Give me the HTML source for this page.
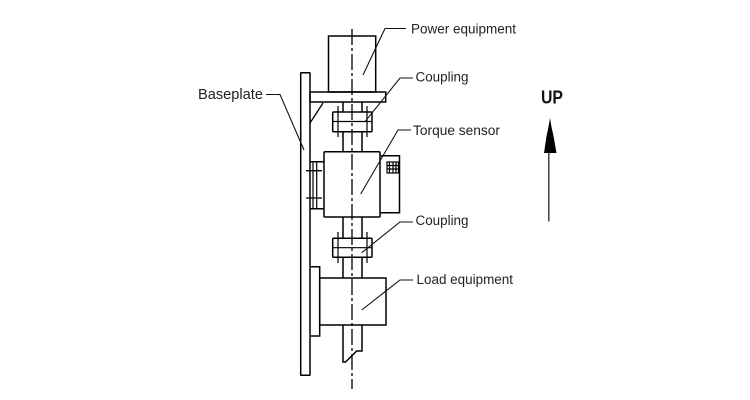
<!DOCTYPE html>
<html>
<head>
<meta charset="utf-8">
<style>
html,body{margin:0;padding:0;background:#fff;width:750px;height:400px;overflow:hidden}
svg{display:block}
text{font-family:"Liberation Sans",Arial,sans-serif;fill:#222}
</style>
</head>
<body>
<svg width="750" height="400" viewBox="0 0 750 400" xmlns="http://www.w3.org/2000/svg">
<g fill="none" stroke="#000" stroke-width="1.5">
  <!-- baseplate -->
  <rect x="300.7" y="72.7" width="9.3" height="302.5" rx="0.5"/>
  <!-- power equipment -->
  <rect x="328.5" y="36" width="47.2" height="56"/>
  <rect x="310" y="92" width="75.7" height="10"/>
  <path d="M323 103L310 123" stroke-width="1.3"/>
  <!-- upper shaft -->
  <path d="M343 102V112M362 102V112M343 132V152M362 132V152"/>
  <!-- upper coupling -->
  <rect x="332.7" y="112" width="39.3" height="19.7" rx="1"/>
  <path d="M338 106V137M367 106V137M332.7 121.5H372" stroke-width="1.2"/>
  <!-- torque sensor -->
  <rect x="324" y="151.7" width="56" height="65.3" rx="1"/>
  <path d="M380 155.7H399.5V212.7H380"/>
  <rect x="387" y="162" width="11.5" height="11" stroke-width="1.2"/>
  <path d="M389.5 162V173M393 162V173M396 162V173M387 165.5H398.5M387 169H398.5" stroke-width="1.2"/>
  <!-- sensor mount -->
  <path d="M310 161.7H323.5M310 208.7H323.5"/>
  <path d="M313 161.7V208.7M316.7 161.7V208.7" stroke-width="1.2"/>
  <path d="M306 170.7H322M306 198H322" stroke-width="1.3"/>
  <!-- lower shaft -->
  <path d="M343 217V238M362 217V238M343 257.5V278M362 257.5V278"/>
  <!-- lower coupling -->
  <rect x="332.7" y="238.3" width="39.3" height="19" rx="1"/>
  <path d="M338 232V263M367 232V263M332.7 247.7H372" stroke-width="1.2"/>
  <!-- load equipment -->
  <rect x="319.7" y="278" width="66.3" height="47"/>
  <path d="M311 266.7H319.7V336H311"/>
  <!-- bottom shaft -->
  <path d="M343 325V362H345.5L356.7 351H362V325"/>
  <!-- centre line -->
  <path d="M352 29V389" stroke-dasharray="16 3 3 3" stroke-width="1.3"/>
</g>
<!-- leaders -->
<g fill="none" stroke="#111" stroke-width="1.1">
  <path d="M363 75L385 28.5H406"/>
  <path d="M365 121.7L400 78H413"/>
  <path d="M360.7 194L398 130H411"/>
  <path d="M361.7 252.7L400 222H413"/>
  <path d="M361.7 310L400 280H413"/>
  <path d="M266 94.5H280L304 150"/>
</g>
<!-- labels -->
<g font-size="13.5">
  <text x="411" y="33.5" textLength="105" lengthAdjust="spacingAndGlyphs">Power equipment</text>
  <text x="415.5" y="81.5" textLength="53" lengthAdjust="spacingAndGlyphs">Coupling</text>
  <text x="413" y="135" textLength="87" lengthAdjust="spacingAndGlyphs">Torque sensor</text>
  <text x="415.5" y="225" textLength="53" lengthAdjust="spacingAndGlyphs">Coupling</text>
  <text x="416.5" y="284" textLength="96.5" lengthAdjust="spacingAndGlyphs">Load equipment</text>
</g>
<text x="198" y="99" font-size="14.5" textLength="65" lengthAdjust="spacingAndGlyphs">Baseplate</text>
<!-- UP arrow -->
<text x="541" y="103.5" font-size="18" font-weight="bold" textLength="22" lengthAdjust="spacingAndGlyphs" style="fill:#111">UP</text>
<path d="M550 118L551.5 127L553.5 136L556.5 153H544L546.5 136L548.5 127Z" fill="#000"/>
<path d="M548.8 153V221.5" stroke="#333" stroke-width="1.4" fill="none"/>
</svg>
</body>
</html>
